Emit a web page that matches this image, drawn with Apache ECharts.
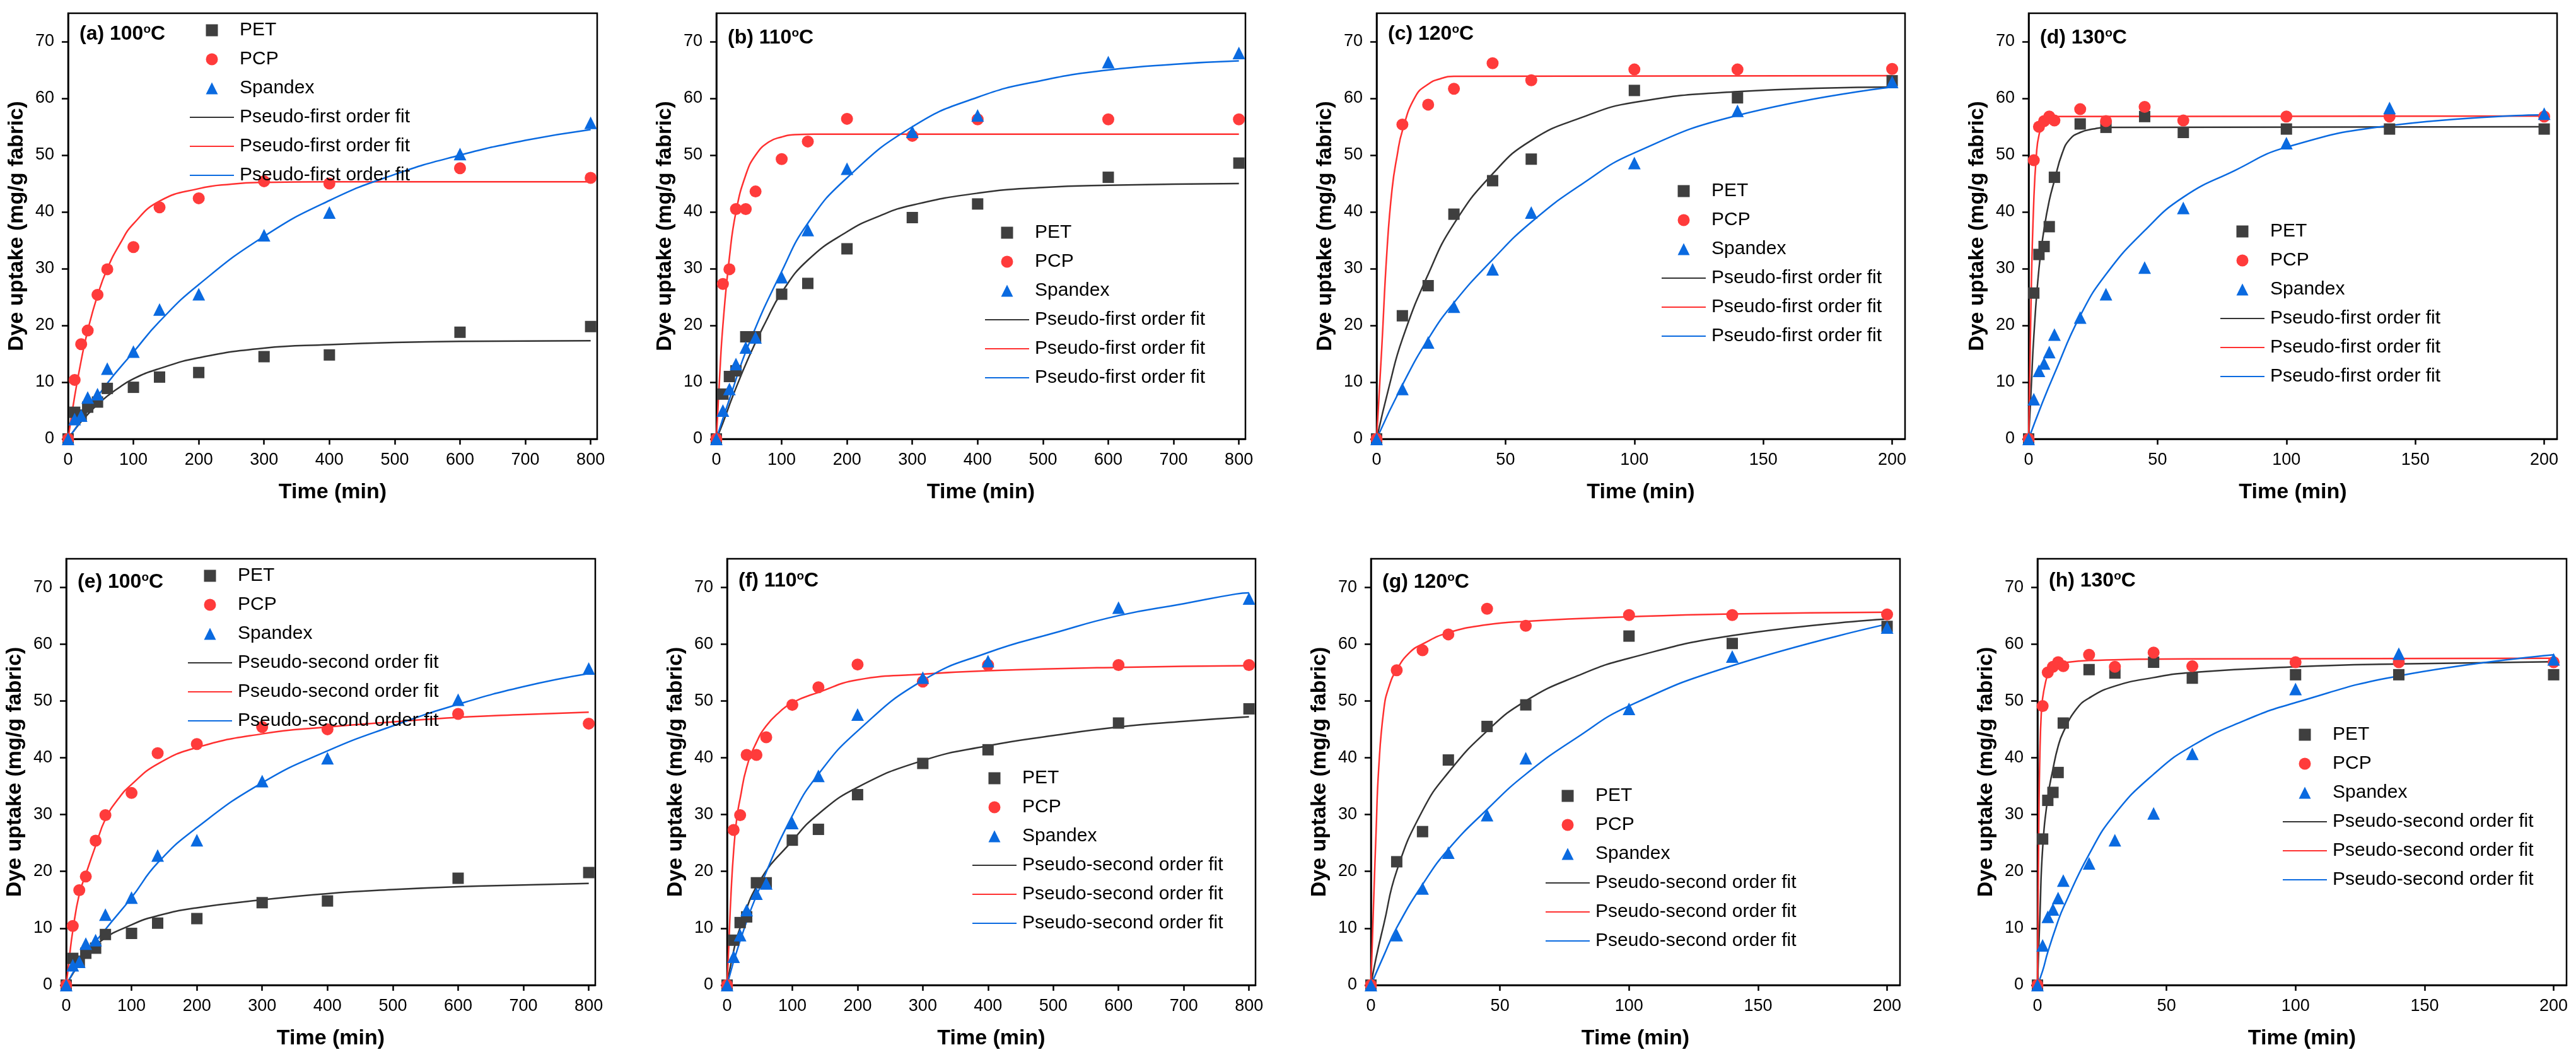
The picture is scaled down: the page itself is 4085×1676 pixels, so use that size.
<!DOCTYPE html>
<html>
<head>
<meta charset="utf-8">
<script src="https://cdn.jsdelivr.net/npm/echarts@6/dist/echarts.min.js"></script>
<style>
  html, body { margin: 0; padding: 0; background: #fff; }
  #chart { width: 4085px; height: 1676px; }
</style>
</head>
<body>
<div id="chart"></div>
<script>
// sampling times (min)
const timeLong = [0, 10, 20, 30, 45, 60, 100, 140, 200, 300, 400, 600, 800]
const time120 = [0, 10, 20, 30, 45, 60, 100, 140, 200]
const time130 = [0, 2, 4, 6, 8, 10, 20, 30, 45, 60, 100, 140, 200]

// tick labels
const xTicksLong = [0, 100, 200, 300, 400, 500, 600, 700, 800]
const xTicksShort = [0, 50, 100, 150, 200]
const yTicks = [0, 10, 20, 30, 40, 50, 60, 70]

// measured dye uptake (mg/g fabric)
const pet100 = [0, 4.7, 4.2, 5.6, 6.5, 8.9, 9.1, 10.9, 11.7, 14.5, 14.8, 18.8, 19.8]
const pcp100 = [0, 10.4, 16.7, 19.1, 25.4, 29.9, 33.8, 40.8, 42.4, 45.4, 45.0, 47.7, 46.0]
const spx100 = [0, 3.5, 4.1, 7.3, 7.9, 12.4, 15.4, 22.8, 25.5, 35.9, 39.9, 50.2, 55.7]

const pet110 = [0, 7.9, 11.0, 12.0, 18.0, 18.0, 25.5, 27.4, 33.5, 39.0, 41.4, 46.1, 48.6]
const pcp110 = [0, 27.3, 29.9, 40.5, 40.5, 43.6, 49.3, 52.4, 56.4, 53.4, 56.3, 56.3, 56.3]
const spx110 = [0, 5.0, 8.8, 13.2, 16.1, 17.9, 28.5, 36.8, 47.6, 54.1, 57.0, 66.4, 68.0]

const pet120 = [0, 21.7, 27.0, 39.6, 45.5, 49.3, 61.4, 60.1, 63.1]
const pcp120 = [0, 55.4, 58.9, 61.7, 66.2, 63.2, 65.1, 65.1, 65.2]
const spx120 = [0, 8.8, 17.0, 23.3, 29.9, 39.9, 48.6, 57.8, 62.9]

const pet130 = [0, 25.7, 32.5, 33.9, 37.4, 46.1, 55.5, 54.9, 56.8, 54.0, 54.6, 54.6, 54.6]
const pcp130 = [0, 49.1, 55.0, 56.0, 56.8, 56.1, 58.1, 56.0, 58.5, 56.1, 56.8, 56.8, 56.8]
const spx130 = [0, 7.0, 12.0, 13.3, 15.3, 18.4, 21.4, 25.5, 30.2, 40.7, 52.1, 58.3, 57.3]

// pseudo-first order fit curves [t, q]
const pfoPet100 = [[0, 0], [10, 1.6], [25, 3.7], [50, 6.6], [75, 8.8], [100, 10.6], [140, 12.4], [200, 14.3], [300, 16.0], [400, 16.6], [500, 17.0], [600, 17.2], [800, 17.3]]
const pfoPcp100 = [[0, 0], [10, 7.5], [20, 13.8], [30, 19.1], [45, 25.3], [60, 30.0], [80, 34.5], [100, 37.9], [140, 41.9], [200, 44.1], [250, 44.9], [300, 45.2], [400, 45.3], [800, 45.3]]
const pfoSpx100 = [[0, 0], [20, 3.3], [60, 9.8], [100, 15.3], [140, 20.7], [200, 27.2], [300, 35.7], [400, 42.0], [500, 46.6], [600, 50.0], [700, 52.6], [800, 54.5]]

const pfoPet110 = [[0, 0], [10, 2.8], [25, 7.5], [50, 14.5], [75, 20.5], [100, 25.8], [140, 31.5], [200, 36.5], [250, 39.3], [300, 41.2], [400, 43.3], [500, 44.3], [600, 44.7], [800, 45.0]]
const pfoPcp110 = [[0, 0], [5, 11], [10, 20], [20, 32], [30, 40], [45, 46.5], [60, 50], [80, 52.3], [100, 53.2], [120, 53.6], [150, 53.7], [800, 53.7]]
const pfoSpx110 = [[0, 0], [20, 7], [50, 16.8], [100, 29.5], [140, 38], [200, 46], [300, 55], [400, 60.2], [500, 63.2], [600, 65], [700, 66], [800, 66.6]]

const pfoPet120 = [[0, 0], [5, 9.5], [10, 17.6], [20, 29], [30, 37.9], [45, 46.7], [60, 52.6], [80, 56.7], [100, 59.3], [140, 61.2], [200, 62.0]]
const pfoPcp120 = [[0, 0], [2, 16], [4, 33], [6, 44], [8, 50], [10, 54.3], [15, 60.3], [20, 62.5], [25, 63.5], [30, 63.9], [200, 64.0]]
const pfoSpx120 = [[0, 0], [10, 9.5], [20, 17.6], [30, 24], [45, 31.6], [60, 38.2], [80, 45], [100, 50.4], [140, 57], [200, 62]]

const pfoPet130 = [[0, 0], [1, 9], [2, 18], [4, 30], [6, 37], [8, 42], [10, 45.5], [13, 50.3], [16, 52.8], [20, 54], [25, 54.6], [30, 54.9], [200, 55]]
const pfoPcp130 = [[0, 0], [1, 26], [2, 42], [3, 50], [4, 53.5], [6, 56], [8, 56.6], [10, 56.8], [200, 56.9]]
const pfoSpx130 = [[0, 0], [5, 6], [10, 11.5], [20, 21.7], [30, 29], [45, 36.7], [60, 42.6], [80, 47.3], [100, 51.4], [140, 55.2], [200, 57.1]]

// pseudo-second order fit curves [t, q]
const psoPet100 = [[0, 0], [10, 2], [20, 3.6], [50, 7.5], [100, 10.6], [140, 12.2], [200, 13.6], [300, 15.0], [400, 16.1], [500, 16.8], [600, 17.3], [700, 17.6], [800, 17.9]]
const psoPcp100 = [[0, 0], [5, 5], [10, 9.5], [20, 16], [30, 19.5], [45, 24.5], [60, 29.2], [80, 32.8], [100, 35.3], [140, 38.9], [200, 41.8], [300, 44.2], [400, 45.4], [500, 46.3], [600, 47.1], [700, 47.6], [800, 48.0]]
const psoSpx100 = [[0, 0], [20, 3.9], [60, 9.8], [100, 15.4], [140, 21.5], [200, 27.7], [300, 35.6], [400, 41.2], [500, 45.6], [600, 49.4], [700, 52.5], [800, 54.8]]

const psoPet110 = [[0, 0], [10, 6], [20, 10.1], [50, 18.3], [100, 25.4], [140, 30.1], [200, 34.8], [300, 39.5], [400, 42.1], [500, 43.9], [600, 45.4], [700, 46.4], [800, 47.2]]
const psoPcp110 = [[0, 0], [3, 8], [6, 16], [10, 23.5], [15, 29.5], [20, 32.8], [30, 38.3], [45, 42.7], [60, 45.6], [80, 48], [100, 49.7], [140, 51.5], [200, 53.7], [300, 54.7], [400, 55.3], [600, 55.9], [800, 56.2]]
const psoSpx110 = [[0, 0], [20, 7.8], [50, 17.1], [100, 29.8], [140, 37.1], [200, 44.7], [300, 53.6], [400, 58.5], [500, 61.9], [600, 65], [700, 67.1], [780, 68.8], [800, 69]]

const psoPet120 = [[0, 0], [2, 4.8], [5, 10.7], [10, 20.1], [20, 30.7], [30, 37.4], [45, 44.7], [60, 50], [80, 54.4], [100, 57.5], [140, 61.5], [200, 64.4]]
const psoPcp120 = [[0, 0], [1, 14], [2, 27], [3, 38], [5, 48.5], [7, 52.5], [10, 55.5], [15, 58.5], [20, 60], [30, 62], [45, 63.4], [60, 64], [100, 64.8], [140, 65.3], [200, 65.6]]
const psoSpx120 = [[0, 0], [5, 5.2], [10, 10.1], [20, 17.7], [30, 23.9], [45, 30.9], [60, 37.1], [80, 43.6], [100, 49.1], [140, 56.2], [200, 63.5]]

const psoPet130 = [[0, 0], [1, 13], [2, 24], [4, 33], [6, 38], [8, 42], [10, 44.5], [15, 48.5], [20, 50.5], [30, 52.6], [45, 54.1], [60, 55], [100, 56], [140, 56.5], [200, 56.9]]
const psoPcp130 = [[0, 0], [0.5, 28], [1, 42], [1.5, 48], [2, 50.5], [3, 53], [4, 54.5], [6, 55.8], [8, 56.4], [10, 56.7], [20, 57.1], [60, 57.4], [200, 57.5]]
const psoSpx130 = [[0, 0], [2, 2.5], [4, 5.8], [8, 11.3], [10, 13.6], [20, 23], [30, 30.1], [45, 37.1], [60, 42.1], [80, 46.5], [100, 49.7], [140, 54.4], [200, 58.1]]

const FONT = '"Liberation Sans", Arial, sans-serif'
const BLACK = '#3f3f3f', RED = '#ff3b3b', BLUE = '#0a6ae0'

// layout of each panel (grid box in px, legend and label placement)
const panels = [
  {tag: '(a) 100', order: 'first', t: timeLong, d: [pet100, pcp100, spx100], f: [pfoPet100, pfoPcp100, pfoSpx100], max: 810, ticks: xTicksLong,
    grid: [108, 21, 839, 675], legend: [300, 33], labelTop: 16},
  {tag: '(b) 110', order: 'first', t: timeLong, d: [pet110, pcp110, spx110], f: [pfoPet110, pfoPcp110, pfoSpx110], max: 810, ticks: xTicksLong,
    grid: [1136, 21, 839, 675], legend: [1561, 354], labelTop: 22},
  {tag: '(c) 120', order: 'first', t: time120, d: [pet120, pcp120, spx120], f: [pfoPet120, pfoPcp120, pfoSpx120], max: 205, ticks: xTicksShort,
    grid: [2183, 21, 838, 675], legend: [2634, 288], labelTop: 16},
  {tag: '(d) 130', order: 'first', t: time130, d: [pet130, pcp130, spx130], f: [pfoPet130, pfoPcp130, pfoSpx130], max: 205, ticks: xTicksShort,
    grid: [3217, 21, 838, 675], legend: [3520, 352], labelTop: 22},
  {tag: '(e) 100', order: 'second', t: timeLong, d: [pet100, pcp100, spx100], f: [psoPet100, psoPcp100, psoSpx100], max: 810, ticks: xTicksLong,
    grid: [105, 886, 839, 676], legend: [297, 898], labelTop: 20},
  {tag: '(f) 110', order: 'second', t: timeLong, d: [pet110, pcp110, spx110], f: [psoPet110, psoPcp110, psoSpx110], max: 810, ticks: xTicksLong,
    grid: [1153, 886, 838, 676], legend: [1541, 1219], labelTop: 18},
  {tag: '(g) 120', order: 'second', t: time120, d: [pet120, pcp120, spx120], f: [psoPet120, psoPcp120, psoSpx120], max: 205, ticks: xTicksShort,
    grid: [2174, 886, 839, 676], legend: [2450, 1247], labelTop: 20},
  {tag: '(h) 130', order: 'second', t: time130, d: [pet130, pcp130, spx130], f: [psoPet130, psoPcp130, psoSpx130], max: 205, ticks: xTicksShort,
    grid: [3231, 886, 839, 676], legend: [3619, 1150], labelTop: 18},
]

const markerNames = ['PET', 'PCP', 'Spandex']
const markerSymbols = ['rect', 'circle', 'triangle']
const markerSizes = [18, 19, 20]
const legendIcons = ['path://M0,0H10V10H0Z', 'circle', 'path://M5,0L10,10L0,10Z']
const colors = [BLACK, RED, BLUE]
const lineColors = ['#333333', '#ff3030', '#0a6ae0']

var grids = [], xAxes = [], yAxes = [], series = [], legends = [], titles = []

panels.forEach((p, i) => {
  var g = p.grid
  grids.push({left: g[0], top: g[1], width: g[2], height: g[3], show: true,
    borderColor: '#000', borderWidth: 2.5, backgroundColor: 'transparent'})

  xAxes.push({
    gridIndex: i, type: 'value', min: 0, max: p.max,
    name: 'Time (min)', nameLocation: 'middle', nameGap: 68,
    nameTextStyle: {fontSize: 34, fontWeight: 'bold', color: '#000', fontFamily: FONT},
    axisLine: {onZero: false, lineStyle: {color: '#000', width: 2.5}},
    axisTick: {length: 9, customValues: p.ticks, lineStyle: {color: '#000', width: 2.5}},
    axisLabel: {customValues: p.ticks, fontSize: 27, color: '#000', margin: 20, fontFamily: FONT},
    splitLine: {show: false}
  })
  yAxes.push({
    gridIndex: i, type: 'value', min: 0, max: 75,
    name: 'Dye uptake (mg/g fabric)', nameLocation: 'middle', nameGap: 64, nameRotate: 90,
    nameTextStyle: {fontSize: 34, fontWeight: 'bold', color: '#000', fontFamily: FONT},
    axisLine: {onZero: false, lineStyle: {color: '#000', width: 2.5}},
    axisTick: {length: 10, customValues: yTicks, lineStyle: {color: '#000', width: 2.5}},
    axisLabel: {customValues: yTicks, fontSize: 27, color: '#000', margin: 22, fontFamily: FONT},
    splitLine: {show: false}
  })

  // trailing spaces keep the three fit names apart, the legend trims them
  var fitBase = 'Pseudo-' + p.order + ' order fit'
  var fitNames = [fitBase, fitBase + ' ', fitBase + '  ']

  p.f.forEach((fit, k) => {
    series.push({
      type: 'line', name: fitNames[k], xAxisIndex: i, yAxisIndex: i,
      data: fit, smooth: 0.5, symbol: 'none', showSymbol: false,
      lineStyle: {color: lineColors[k], width: 2.5}, itemStyle: {color: lineColors[k]},
      silent: true, animation: false
    })
  })
  p.d.forEach((vals, k) => {
    series.push({
      type: 'scatter', name: markerNames[k], xAxisIndex: i, yAxisIndex: i,
      data: p.t.map((t, j) => [t, vals[j]]),
      symbol: markerSymbols[k], symbolSize: markerSizes[k],
      itemStyle: {color: colors[k], opacity: 1}, z: 3, silent: true, animation: false
    })
  })

  // line legend items: hide the dot echarts puts in the middle of the line
  legends.push({
    left: p.legend[0], top: p.legend[1], orient: 'vertical', padding: 0,
    itemWidth: 70, itemHeight: 19, itemGap: 16, selectedMode: false,
    data: markerNames.map((n, k) => ({name: n, icon: legendIcons[k]}))
      .concat(fitNames.map(n => ({name: n, itemStyle: {opacity: 0}}))),
    formatter: n => n.trim(),
    textStyle: {fontSize: 30, color: '#000', fontFamily: FONT, lineHeight: 24, padding: [0, 0, 0, 4]}
  })

  titles.push({
    left: g[0] + 18, top: g[1] + p.labelTop, padding: 0,
    text: '{b|' + p.tag + '}{s|o}{b|C}',
    textStyle: {
      rich: {
        b: {fontSize: 32, fontWeight: 'bold', color: '#000', fontFamily: FONT, lineHeight: 34},
        s: {fontSize: 19, fontWeight: 'bold', color: '#000', fontFamily: FONT, lineHeight: 20, verticalAlign: 'top'}
      }
    }
  })
})

var chart = echarts.init(document.getElementById('chart'))
chart.setOption({
  animation: false,
  backgroundColor: '#fff',
  title: titles,
  legend: legends,
  grid: grids,
  xAxis: xAxes,
  yAxis: yAxes,
  series: series
})
</script>
</body>
</html>
